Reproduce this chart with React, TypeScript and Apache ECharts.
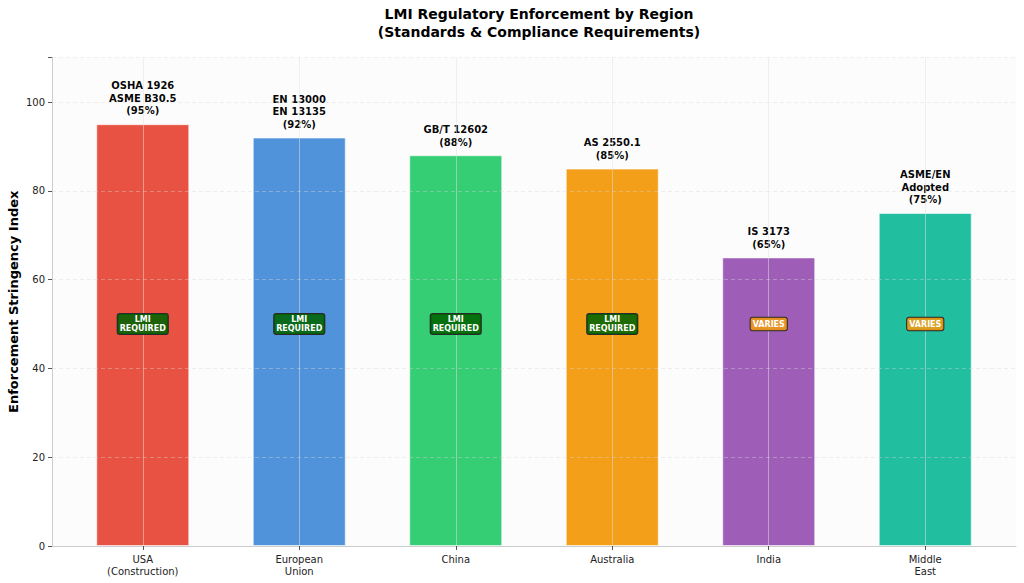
import React, { useEffect, useRef } from "react";
import * as echarts from "echarts";

const categories = ["USA\n(Construction)", "European\nUnion", "China", "Australia", "India", "Middle\nEast"];
const values = [95, 92, 88, 85, 65, 75];
const standards = ["OSHA 1926\nASME B30.5", "EN 13000\nEN 13135", "GB/T 12602", "AS 2550.1", "IS 3173", "ASME/EN\nAdopted"];
const statuses = ["LMI\nREQUIRED", "LMI\nREQUIRED", "LMI\nREQUIRED", "LMI\nREQUIRED", "VARIES", "VARIES"];
const barColors = ["#e74c3c", "#4a90d9", "#2ecc71", "#f39c12", "#9b59b6", "#1abc9c"];
const badgeLevel = 50;
const yTicks = [0, 20, 40, 60, 80, 100];
const yMax = 110;

const FONT = "DejaVu Sans";

export default function App() {
  const ref = useRef<HTMLDivElement>(null);
  useEffect(() => {
    if (!ref.current) return;
    const chart = echarts.init(ref.current, null, { renderer: "svg" });
    const idx = categories.map((_, i) => i);
    const option: any = {
      animation: false,
      backgroundColor: "#ffffff",
      textStyle: { fontFamily: FONT },
      title: {
        text: "LMI Regulatory Enforcement by Region\n(Standards & Compliance Requirements)",
        left: 534,
        top: 0,
        textAlign: "center",
        textStyle: { fontFamily: FONT, fontSize: 14, fontWeight: "bold", color: "#000", lineHeight: 18 },
      },
      grid: {
        left: 52,
        right: 8,
        top: 57.6,
        bottom: 37,
        show: true,
        backgroundColor: "#fcfcfc",
        borderWidth: 0,
        containLabel: false,
        outerBoundsMode: "none",
      },
      xAxis: {
        type: "value",
        min: -0.58,
        max: 5.58,
        z: 3,
        axisLine: { show: true, onZero: false, lineStyle: { color: "#cccccc", width: 1 } },
        axisTick: { show: true, customValues: idx, length: 4, lineStyle: { color: "#555" } },
        axisLabel: {
          customValues: idx,
          formatter: (v: number) => categories[Math.round(v)] ?? "",
          fontFamily: FONT,
          fontSize: 10,
          color: "#222",
          lineHeight: 12,
          margin: 7,
        },
        splitLine: { show: false },
      },
      yAxis: {
        type: "value",
        min: 0,
        max: yMax,
        interval: 20,
        z: 3,
        name: "Enforcement Stringency Index",
        nameLocation: "middle",
        nameGap: 32,
        nameMoveOverlap: false,
        nameRotate: 90,
        nameTextStyle: { fontFamily: FONT, fontSize: 13, fontWeight: "bold", color: "#000" },
        axisLine: { show: true, onZero: false, lineStyle: { color: "#cccccc", width: 1 } },
        axisTick: { show: true, length: 4, lineStyle: { color: "#555" } },
        axisLabel: {
          fontFamily: FONT,
          fontSize: 10,
          color: "#222",
          margin: 7,
          formatter: (v: number) => (yTicks.includes(v) ? String(v) : ""),
        },
        splitLine: { show: true, lineStyle: { color: "rgba(215,215,215,0.5)", type: [4, 3], width: 0.8 } },
      },
      series: [
        {
          type: "bar",
          barWidth: 93,
          z: 2,
          data: values.map((v, i) => ({
            value: [i, v],
            itemStyle: { color: barColors[i], opacity: 0.97, borderColor: "rgba(255,255,255,0.6)", borderWidth: 1 },
          })),
          label: {
            show: true,
            position: "top",
            distance: 7,
            fontFamily: FONT,
            fontSize: 10,
            fontWeight: "bold",
            color: "#000",
            lineHeight: 12.5,
            formatter: (p: any) => `${standards[p.dataIndex]}\n(${values[p.dataIndex]}%)`,
          },
          markLine: {
            silent: true,
            symbol: ["none", "none"],
            label: { show: false },
            lineStyle: { color: "rgba(225,225,225,0.5)", type: "solid", width: 1 },
            data: idx.map((i) => [{ coord: [i, 0] }, { coord: [i, yMax] }]),
          },
        },
        {
          type: "scatter",
          symbolSize: 0,
          z: 5,
          itemStyle: { opacity: 1 },
          data: statuses.map((s, i) => ({
            value: [i, badgeLevel],
            label: {
              show: true,
              position: "inside",
              formatter: s,
              fontFamily: FONT,
              fontSize: 8,
              fontWeight: "bold",
              color: "#ffffff",
              opacity: 1,
              lineHeight: 9.5,
              backgroundColor: s === "VARIES" ? "rgba(243,156,18,0.88)" : "rgba(0,100,0,0.88)",
              borderColor: "#2a2a2a",
              borderWidth: 1,
              borderRadius: 2,
              padding: s === "VARIES" ? [2, 2, 1, 2] : [1, 2, 0, 2],
            },
          })),
        },
      ],
    };
    chart.setOption(option);
    return () => chart.dispose();
  }, []);
  return <div ref={ref} style={{ position: "fixed", left: 0, top: 0, width: 1024, height: 583 }} />;
}
